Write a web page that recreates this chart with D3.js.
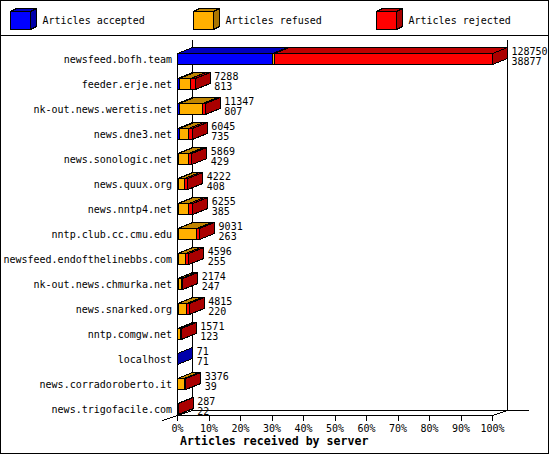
<!DOCTYPE html>
<html>
<head>
<meta charset="utf-8">
<script src="https://cdn.jsdelivr.net/npm/d3@7"></script>
<style>
  body { margin: 0; background: #fff; }
  svg text { font-family: "DejaVu Sans Mono", monospace; }
</style>
</head>
<body>
<div id="chart"></div>
<script>
// servers, in the order shown (sorted by accepted articles)
const servers = ["newsfeed.bofh.team", "feeder.erje.net", "nk-out.news.weretis.net",
  "news.dne3.net", "news.sonologic.net", "news.quux.org", "news.nntp4.net",
  "nntp.club.cc.cmu.edu", "newsfeed.endofthelinebbs.com", "nk-out.news.chmurka.net",
  "news.snarked.org", "nntp.comgw.net", "localhost", "news.corradoroberto.it",
  "news.trigofacile.com"];

const accepted = [38877, 813, 807, 735, 429, 408, 385, 263, 255, 247, 220, 123, 71, 39, 22];
// estimated from the bar segments
const refused  = [700, 4650, 9400, 3800, 4200, 2420, 4300, 7600, 3000, 1190, 3480, 930, 0, 2760, 20];
const rejected = [89173, 1825, 1140, 1510, 1240, 1394, 1570, 1168, 1341, 737, 1115, 518, 0, 577, 245];

const seriesNames = ["Articles accepted", "Articles refused", "Articles rejected"];
const seriesFront = ["#0000ff", "#ffb000", "#ff0000"];
const seriesTop   = ["#0000bf", "#bf8400", "#bf0000"];
const seriesSide  = ["#0000aa", "#aa7500", "#aa0000"];

const xTicks = [0, 10, 20, 30, 40, 50, 60, 70, 80, 90, 100];

const W = 550, H = 455;
const dx = 15, dy = 6;      // bar depth
const adx = 15, ady = 5;    // axis depth

const svg = d3.select("#chart").append("svg")
  .attr("width", W).attr("height", H)
  .style("display", "block");

// frame and legend separator
svg.append("rect")
  .attr("x", 0.5).attr("y", 0.5).attr("width", 548).attr("height", 453)
  .attr("fill", "#fff").attr("stroke", "#000");
svg.append("line")
  .attr("x1", 0).attr("x2", 549).attr("y1", 35.5).attr("y2", 35.5)
  .attr("stroke", "#000");

const values = [accepted, refused, rejected];
const totals = servers.map((s, i) => accepted[i] + refused[i] + rejected[i]);
const maxTotal = d3.max(totals);

const x = d3.scaleLinear().domain([0, 100]).range([177.5, 492.5]);
const y = d3.scalePoint().domain(servers).range([59, 409]);

const g = svg.append("g").attr("shape-rendering", "crispEdges");

// back walls / floor
g.append("line").attr("x1", 192.5).attr("x2", 192.5).attr("y1", 40).attr("y2", 410.5).attr("stroke", "#000");
g.append("line").attr("x1", 507.5).attr("x2", 507.5).attr("y1", 40).attr("y2", 410.5).attr("stroke", "#000");
g.append("line").attr("x1", 192.5).attr("x2", 529).attr("y1", 410.5).attr("y2", 410.5).attr("stroke", "#000");
// front axis
g.append("line").attr("x1", x(0)).attr("x2", x(100)).attr("y1", 415.5).attr("y2", 415.5).attr("stroke", "#000");
g.append("line").attr("x1", x(0)).attr("x2", x(0)).attr("y1", 53).attr("y2", 420).attr("stroke", "#000");
g.append("line").attr("x1", x(0) - adx).attr("y1", 415.5 + ady)
  .attr("x2", x(0) + adx).attr("y2", 415.5 - ady).attr("stroke", "#000");
g.append("line").attr("x1", x(100)).attr("y1", 415.5)
  .attr("x2", x(100) + adx).attr("y2", 415.5 - ady).attr("stroke", "#000");

// ticks and labels
g.selectAll(".tick").data(xTicks).enter().append("line")
  .attr("x1", d => x(d)).attr("x2", d => x(d))
  .attr("y1", 415.5).attr("y2", 420.5).attr("stroke", "#000");
svg.selectAll(".tlab").data(xTicks).enter().append("text")
  .attr("x", d => x(d)).attr("y", 432)
  .attr("text-anchor", "middle").attr("font-size", 10)
  .text(d => d + "%");

svg.append("text")
  .attr("x", 180).attr("y", 445)
  .attr("font-size", 11.6).attr("font-weight", "bold")
  .text("Articles received by server");

// category labels
svg.selectAll(".cat").data(servers).enter().append("text")
  .attr("x", 172).attr("y", d => y(d) + 4)
  .attr("text-anchor", "end").attr("font-size", 10)
  .text(d => d);

// a 3d box: front face, top face, side face
function box(sel, x0, x1, yt, yb, k, ddx, ddy) {
  sel.append("rect")
    .attr("x", x0).attr("y", yt).attr("width", Math.max(0, x1 - x0)).attr("height", yb - yt)
    .attr("fill", seriesFront[k]).attr("stroke", "#000");
  sel.append("path")
    .attr("d", `M${x0},${yt}L${x0 + ddx},${yt - ddy}L${x1 + ddx},${yt - ddy}L${x1},${yt}Z`)
    .attr("fill", seriesTop[k]).attr("stroke", "#000");
  sel.append("path")
    .attr("d", `M${x1},${yt}L${x1 + ddx},${yt - ddy}L${x1 + ddx},${yb - ddy}L${x1},${yb}Z`)
    .attr("fill", seriesSide[k]).attr("stroke", "#000");
}

// bars
servers.forEach((s, i) => {
  const c = y(s);
  const yt = c - 5.5, yb = c + 5.5;
  const bar = g.append("g");
  let cum = 0;
  values.forEach((vals, k) => {
    const v = vals[i];
    if (v <= 0) return;
    const x0 = x(cum / maxTotal * 100);
    cum += v;
    const x1 = x(cum / maxTotal * 100);
    box(bar, x0, x1, yt, yb, k, dx, dy);
  });
  const xe = x(cum / maxTotal * 100) + 19;
  svg.append("text").attr("x", xe).attr("y", c - 4).attr("font-size", 10).text(totals[i]);
  svg.append("text").attr("x", xe).attr("y", c + 6).attr("font-size", 10).text(accepted[i]);
});

// legend
const lx = [10.5, 193.5, 376.5];
seriesNames.forEach((name, k) => {
  const lg = svg.append("g").attr("shape-rendering", "crispEdges");
  box(lg, lx[k], lx[k] + 20, 11.5, 29.5, k, 6, 3);
  svg.append("text").attr("x", lx[k] + 32).attr("y", 24)
    .attr("font-size", 10).text(name);
});
</script>
</body>
</html>
